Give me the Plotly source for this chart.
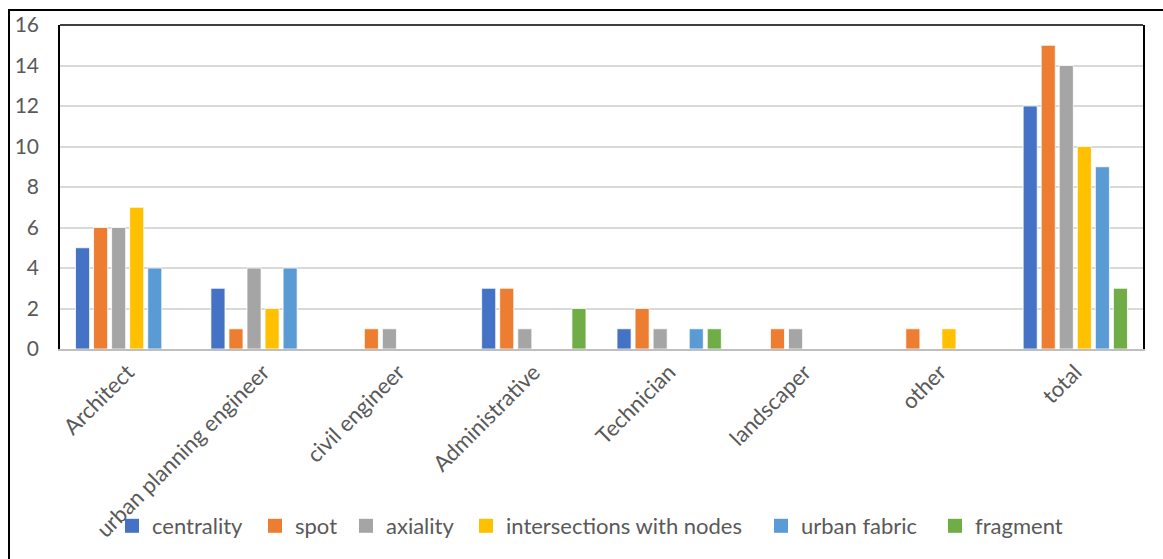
import plotly.graph_objects as go

categories = ["Architect", "urban planning engineer", "civil engineer", "Administrative",
              "Technician", "landscaper", "other", "total"]
centrality = [5, 3, 0, 3, 1, 0, 0, 12]
spot = [6, 1, 1, 3, 2, 1, 1, 15]
axiality = [6, 4, 1, 1, 1, 1, 0, 14]
intersections = [7, 2, 0, 0, 0, 0, 1, 10]
urban_fabric = [4, 4, 0, 0, 1, 0, 0, 9]
fragment = [0, 0, 0, 2, 1, 0, 0, 3]

series_names = ["centrality", "spot", "axiality", "intersections with nodes",
                "urban fabric", "fragment"]
series_values = [centrality, spot, axiality, intersections, urban_fabric, fragment]
series_colors = ["#4472C4", "#ED7D31", "#A5A5A5", "#FFC000", "#5B9BD5", "#70AD47"]

W, H = 1163, 559
L, R, T, B = 60, 20, 25, 210
pw, ph = W - L - R, H - T - B

def px_to_paper_x(px):
    return (px - L) / pw

def px_to_paper_y(py):
    return (H - B - py) / ph

# left edge (px) of each legend entry's text along the bottom row
legend_text_x = [149, 292, 383, 503, 798, 972]

fig = go.Figure()
legend_layouts = {}
for i, (name, vals, color) in enumerate(zip(series_names, series_values, series_colors)):
    fig.add_trace(go.Bar(
        x=categories, y=vals, name=name, showlegend=False,
        marker=dict(color=color, line=dict(color="white", width=0.8)),
    ))
    key = "legend" if i == 0 else f"legend{i + 1}"
    # square swatch shown in the legend row for this series
    fig.add_trace(go.Scatter(
        x=[None], y=[None], mode="markers", name=name, showlegend=True,
        legend=key,
        marker=dict(symbol="square", size=14, color=color),
    ))
    legend_layouts[key] = dict(
        orientation="h", x=px_to_paper_x(legend_text_x[i] - 37), y=px_to_paper_y(526),
        xanchor="left", yanchor="middle",
        font=dict(size=22, color="#595959"),
        itemwidth=30, bgcolor="rgba(0,0,0,0)", itemsizing="trace",
    )

font_family = "Lato, 'Open Sans', sans-serif"
fig.update_layout(
    width=W, height=H,
    margin=dict(l=L, r=R, t=T, b=B),
    paper_bgcolor="white", plot_bgcolor="white",
    barmode="group", bargap=0.2, bargroupgap=0.22,
    font=dict(family=font_family, color="#595959", size=21),
    showlegend=True,
    xaxis=dict(
        showline=True, linecolor="#BFBFBF", linewidth=1.5,
        tickangle=-45, ticks="", tickfont=dict(size=22, color="#595959"),
        showgrid=False, automargin=False,
    ),
    yaxis=dict(
        range=[0, 16], dtick=2, tick0=0,
        showgrid=True, gridcolor="#D9D9D9", gridwidth=1.5,
        showline=True, linecolor="black", linewidth=1.5, mirror=True,
        ticks="", tickfont=dict(size=21, color="#595959"),
        ticklabelstandoff=15, zeroline=False, automargin=False,
    ),
    shapes=[
        # top edge of the plot area
        dict(type="line", xref="paper", yref="paper", x0=0, x1=1, y0=1, y1=1,
             line=dict(color="black", width=1.5)),
        # outer frame of the chart
        dict(type="rect", xref="paper", yref="paper",
             x0=px_to_paper_x(9), x1=px_to_paper_x(1175),
             y0=px_to_paper_y(575), y1=px_to_paper_y(10),
             line=dict(color="black", width=2)),
    ],
    **legend_layouts,
)

fig.write_html("out.html")
